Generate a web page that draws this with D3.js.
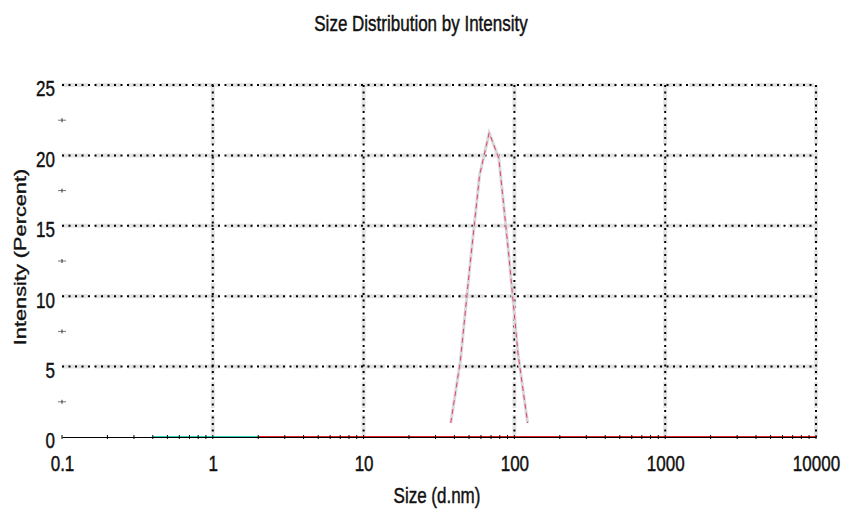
<!DOCTYPE html>
<html>
<head>
<meta charset="utf-8">
<script src="https://cdn.jsdelivr.net/npm/d3@7"></script>
<style>
  body { margin: 0; background: #fff; }
  text { font-family: "Liberation Sans", Arial, sans-serif; fill: #111; stroke: #111; stroke-width: 0.35px; }
</style>
</head>
<body>
<div id="vis"></div>
<script>
// size distribution by intensity

const FRAME_WIDTH = 842;
const FRAME_HEIGHT = 511;
const MARGINS = {left: 62, right: 26, top: 85, bottom: 74};
const STRETCH = 1.28; // text in the picture is drawn taller than wide

// size classes (d.nm)
const peakSizes = [37.84, 43.82, 50.75, 58.77, 68.06, 78.82, 91.28, 105.7, 122.4];
const peakValues = [1.0, 5.4, 12.2, 18.6, 21.6, 19.8, 13.2, 5.9, 1.0];

const lowSizes = [0.4, 0.4632, 0.5365, 0.6213, 0.7195, 0.8332, 0.9649, 1.117, 1.294, 1.499, 1.736, 2.01];
const lowValues = [0, 0, 0, 0, 0, 0, 0, 0, 0, 0, 0, 0];

const baseSizes = [1.736, 10.1, 100, 1000, 10000];
const baseValues = [0, 0, 0, 0, 0];

const xTicks = [0.1, 1, 10, 100, 1000, 10000];
const xTickLabels = ["0.1", "1", "10", "100", "1000", "10000"];
const yTicks = [0, 5, 10, 15, 20, 25];
const yMinor = [2.5, 7.5, 12.5, 17.5, 22.5];

const VIS_WIDTH = FRAME_WIDTH - MARGINS.left - MARGINS.right;
const VIS_HEIGHT = FRAME_HEIGHT - MARGINS.top - MARGINS.bottom;

const FRAME = d3.select("#vis")
  .append("svg")
    .attr("width", FRAME_WIDTH)
    .attr("height", FRAME_HEIGHT);

const X_SCALE = d3.scaleLog()
  .domain([0.1, 10000])
  .range([MARGINS.left, MARGINS.left + VIS_WIDTH]);

const Y_SCALE = d3.scaleLinear()
  .domain([0, 25])
  .range([MARGINS.top + VIS_HEIGHT, MARGINS.top]);

// title
FRAME.append("text")
  .attr("transform", `translate(421,31) scale(1,${STRETCH})`)
  .attr("text-anchor", "middle")
  .style("font-size", "17px")
  .text("Size Distribution by Intensity");

// grid
const grid = FRAME.append("g");
const hLines = yTicks.slice(1);
const vLines = xTicks.slice(1);

function hGrid(sel) {
  return sel.append("line")
    .attr("x1", MARGINS.left)
    .attr("x2", MARGINS.left + VIS_WIDTH)
    .attr("y1", (d) => Y_SCALE(d))
    .attr("y2", (d) => Y_SCALE(d));
}
function vGrid(sel) {
  return sel.append("line")
    .attr("x1", (d) => X_SCALE(d))
    .attr("x2", (d) => X_SCALE(d))
    .attr("y1", MARGINS.top)
    .attr("y2", MARGINS.top + VIS_HEIGHT);
}

hGrid(grid.selectAll(".hg0").data(hLines).enter())
  .attr("stroke", "#e4e4e4").attr("stroke-width", 4).attr("stroke-dasharray", "26,7");
vGrid(grid.selectAll(".vg0").data(vLines).enter())
  .attr("stroke", "#e4e4e4").attr("stroke-width", 4).attr("stroke-dasharray", "26,7");
hGrid(grid.selectAll(".hg").data(hLines).enter())
  .attr("stroke", "#000").attr("stroke-width", 2).attr("stroke-dasharray", "2,4.5");
vGrid(grid.selectAll(".vg").data(vLines).enter())
  .attr("stroke", "#000").attr("stroke-width", 2).attr("stroke-dasharray", "2,4.5");

// records
const lineGen = (xs) => d3.line()
  .x((d, i) => X_SCALE(xs[i]))
  .y((d) => Y_SCALE(d));

FRAME.append("path")
  .datum(baseValues)
  .attr("d", lineGen(baseSizes))
  .attr("fill", "none")
  .attr("stroke", "#e8202a")
  .attr("stroke-width", 2);

FRAME.append("path")
  .datum(lowValues)
  .attr("d", lineGen(lowSizes))
  .attr("fill", "none")
  .attr("stroke", "#30d0b8")
  .attr("stroke-width", 2);

// x axis
const xAxis = d3.axisBottom(X_SCALE)
  .tickValues(xTicks)
  .tickFormat((d, i) => xTickLabels[i])
  .tickSize(0);

const gx = FRAME.append("g")
  .attr("transform", `translate(0,${Y_SCALE(0)})`)
  .call(xAxis);
gx.select(".domain").attr("stroke", "#000").attr("stroke-width", 1);
gx.selectAll("text")
  .attr("y", 26.5)
  .attr("dy", 0)
  .attr("transform", `scale(1,${STRETCH})`)
  .style("font-size", "17px")
  .style("font-family", "Liberation Sans, Arial, sans-serif");

// minor x ticks
const minorX = [];
for (let e = -1; e < 4; e++) {
  for (let m = 2; m <= 9; m++) minorX.push(m * Math.pow(10, e));
}
FRAME.append("g").selectAll("line")
  .data(minorX.concat(xTicks))
  .enter()
  .append("line")
    .attr("x1", (d) => X_SCALE(d))
    .attr("x2", (d) => X_SCALE(d))
    .attr("y1", Y_SCALE(0) - 2)
    .attr("y2", Y_SCALE(0) + 2)
    .attr("stroke", "#000")
    .attr("stroke-width", 1);

// peak
FRAME.append("path")
  .datum(peakValues)
  .attr("d", lineGen(peakSizes))
  .attr("fill", "none")
  .attr("stroke", "#d8d8d8")
  .attr("stroke-width", 3);

FRAME.append("path")
  .datum(peakValues)
  .attr("d", lineGen(peakSizes))
  .attr("fill", "none")
  .attr("stroke", "#e8406a")
  .attr("stroke-width", 1)
  .attr("stroke-dasharray", "5,4");

// y axis
const yAxis = d3.axisLeft(Y_SCALE)
  .tickValues(yTicks)
  .tickSize(0)
  .tickPadding(7);

const gy = FRAME.append("g")
  .attr("transform", `translate(${MARGINS.left},0)`)
  .call(yAxis);
gy.select(".domain").remove();
gy.selectAll("text")
  .attr("dy", "0.5em")
  .attr("transform", `scale(1,${STRETCH})`)
  .style("font-size", "17px")
  .style("font-family", "Liberation Sans, Arial, sans-serif");

// minor y ticks
const gm = FRAME.append("g");
gm.selectAll(".mh")
  .data(yMinor)
  .enter()
  .append("line")
    .attr("x1", MARGINS.left - 4)
    .attr("x2", MARGINS.left + 4)
    .attr("y1", (d) => Y_SCALE(d))
    .attr("y2", (d) => Y_SCALE(d))
    .attr("stroke", "#777")
    .attr("stroke-width", 1);
gm.selectAll(".mv")
  .data(yMinor)
  .enter()
  .append("line")
    .attr("x1", MARGINS.left)
    .attr("x2", MARGINS.left)
    .attr("y1", (d) => Y_SCALE(d) - 2)
    .attr("y2", (d) => Y_SCALE(d) + 2)
    .attr("stroke", "#333")
    .attr("stroke-width", 1);

// axis titles
FRAME.append("text")
  .attr("transform", `translate(437,503) scale(1,${STRETCH})`)
  .attr("text-anchor", "middle")
  .style("font-size", "17px")
  .text("Size (d.nm)");

FRAME.append("text")
  .attr("transform", `translate(26,257) scale(1,${STRETCH}) rotate(-90)`)
  .attr("text-anchor", "middle")
  .style("font-size", "17px")
  .text("Intensity (Percent)");
</script>
</body>
</html>
